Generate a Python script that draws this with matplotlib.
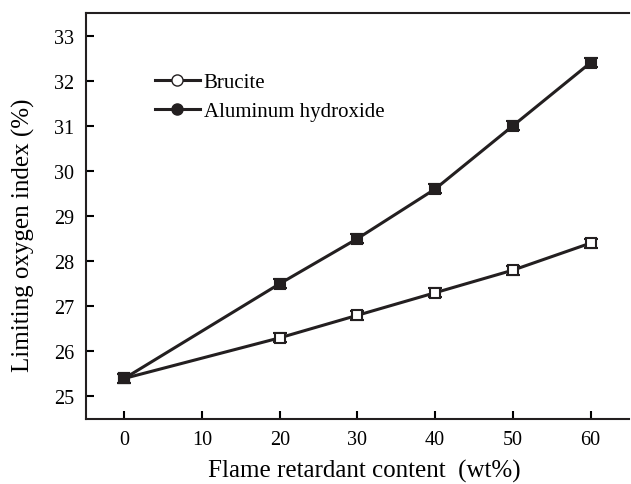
# plot.py
# limiting oxygen index vs flame retardant content

import matplotlib
matplotlib.use("Agg")
from matplotlib import pyplot as plt
from matplotlib.lines import Line2D

plt.rcParams['font.family'] = ['Liberation Serif', 'DejaVu Serif']

content = [0, 20, 30, 40, 50, 60]
brucite = [25.4, 26.3, 26.8, 27.3, 27.8, 28.4]
brucite_err = [0.1, 0.1, 0.1, 0.1, 0.1, 0.1]
alh = [25.4, 27.5, 28.5, 29.6, 31.0, 32.4]
alh_err = [0.1, 0.1, 0.1, 0.1, 0.1, 0.1]
x_ticks = [0, 10, 20, 30, 40, 50, 60]
y_ticks = [25, 26, 27, 28, 29, 30, 31, 32, 33]

fig = plt.figure(figsize=(6.31, 4.85), dpi=100)
ax = fig.add_axes([0.1355, 0.134, 0.862, 0.837])

line_color = "#231f20"
ax.errorbar(content, brucite, yerr=brucite_err, color=line_color, lw=2.2,
            marker="s", markersize=7.5, markerfacecolor="white",
            markeredgecolor=line_color, markeredgewidth=1.5,
            capsize=5, capthick=2, elinewidth=1.5, zorder=3)
ax.errorbar(content, alh, yerr=alh_err, color=line_color, lw=2.2,
            marker="s", markersize=7.5, markerfacecolor=line_color,
            markeredgecolor=line_color, markeredgewidth=1.5,
            capsize=5, capthick=2, elinewidth=1.5, zorder=3)

ax.set_xlim(-5, 65)
ax.set_ylim(24.5, 33.5)
ax.set_xticks(x_ticks)
ax.set_yticks(y_ticks)
ax.tick_params(direction="in", length=6, width=1.5, labelsize=14.5, pad=8)
for side in ["left", "bottom", "top"]:
    ax.spines[side].set_linewidth(1.5)
    ax.spines[side].set_color(line_color)
ax.spines["right"].set_visible(False)

ax.set_xlabel("Flame retardant content  (wt%)", fontsize=18, labelpad=7)
ax.set_ylabel("Limiting oxygen index (%)", fontsize=18, labelpad=14)
# labels sit a bit off-centre in the original
ax.xaxis.label.set_x(0.513)
ax.yaxis.label.set_y(0.455)

# legend uses circles, as in the original
handles = [
    Line2D([], [], color=line_color, lw=2.2, marker="o", markersize=8,
           markerfacecolor="white", markeredgecolor=line_color),
    Line2D([], [], color=line_color, lw=2.2, marker="o", markersize=8,
           markerfacecolor=line_color, markeredgecolor=line_color),
]
ax.legend(handles, ["Brucite", "Aluminum hydroxide"], loc="upper left",
          bbox_to_anchor=(0.093, 0.9), frameon=False, fontsize=15,
          handlelength=2.15, handletextpad=0.2, labelspacing=0.45)

plt.savefig("out.png", dpi=100)
